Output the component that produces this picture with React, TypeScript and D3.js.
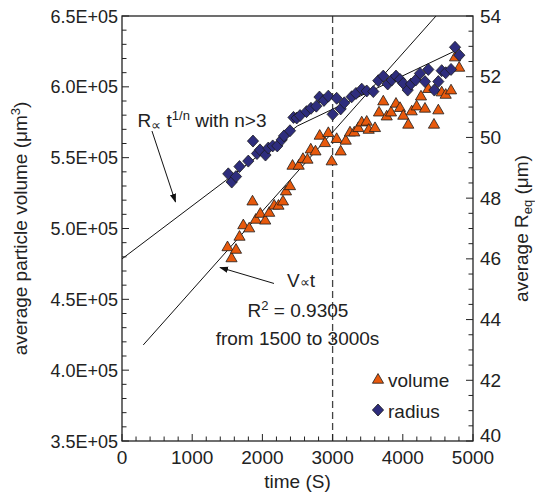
import React from 'react';
import * as d3 from 'd3';

const W = 535;
const H = 497;
const PLOT = { left: 122, right: 473, top: 16, bottom: 441 };

// volume (left axis), triangles
const volTime = [1503, 1560, 1624, 1674, 1728, 1812, 1859, 1906, 1970, 2040, 2097, 2168, 2229, 2293, 2336, 2393, 2429, 2517, 2578, 2642, 2689, 2756, 2816, 2892, 2939, 2987, 3058, 3115, 3187, 3248, 3309, 3366, 3415, 3486, 3514, 3604, 3661, 3722, 3771, 3832, 3903, 3960, 4007, 4078, 4127, 4197, 4259, 4316, 4363, 4444, 4506, 4554, 4611, 4687, 4744, 4803];
const volValue = [486600, 478800, 484800, 494000, 502100, 499900, 518900, 506000, 510200, 505400, 510900, 516000, 515900, 518900, 526000, 529700, 544100, 544100, 548900, 548400, 555600, 554200, 565300, 560100, 567200, 547200, 563000, 554200, 561800, 567600, 567600, 570700, 574700, 575200, 569500, 570700, 581700, 589500, 578900, 581700, 587900, 584900, 579400, 573100, 582500, 586000, 593000, 584400, 598300, 573100, 583200, 595900, 594200, 597300, 620600, 613300];

// radius (right axis), diamonds
const radTime = [1514, 1563, 1624, 1674, 1799, 1866, 1923, 1966, 2044, 2084, 2147, 2212, 2275, 2308, 2393, 2443, 2489, 2536, 2628, 2692, 2768, 2813, 2877, 2939, 3001, 3058, 3115, 3167, 3272, 3333, 3415, 3486, 3580, 3651, 3722, 3785, 3842, 3903, 3960, 4007, 4070, 4117, 4184, 4245, 4316, 4363, 4449, 4506, 4554, 4611, 4687, 4744, 4805];
const radValue = [48.80, 48.53, 48.71, 49.04, 49.22, 49.88, 49.47, 49.59, 49.42, 49.65, 49.72, 49.72, 49.92, 50.05, 50.22, 50.66, 50.64, 50.72, 50.85, 50.96, 51.03, 51.33, 51.22, 51.36, 50.76, 51.29, 50.94, 51.14, 51.34, 51.45, 51.59, 51.53, 51.51, 51.87, 52.02, 51.76, 51.89, 52.02, 51.91, 51.78, 51.56, 51.76, 51.89, 52.11, 51.84, 52.24, 51.56, 51.84, 52.20, 52.13, 52.24, 52.97, 52.71];

// fit lines
const vFitTime = [303, 4473];
const vFitValue = [417800, 650000];
const rFitTime = [0, 1500, 2500, 3500, 4744];
const rFitValue = [46.0, 48.62, 50.38, 51.48, 52.85];

const xTicks = [0, 1000, 2000, 3000, 4000, 5000];
const yLeftTicks = [350000, 400000, 450000, 500000, 550000, 600000, 650000];
const yLeftLabels = ['3.5E+05', '4.0E+05', '4.5E+05', '5.0E+05', '5.5E+05', '6.0E+05', '6.5E+05'];
const yRightTicks = [40, 42, 44, 46, 48, 50, 52, 54];
const dashedTime = 3000;

const FONT = '"Liberation Sans", Arial, Helvetica, sans-serif';
const TEXT = '#222';
const TRI_FILL = '#e8590c';
const DIA_FILL = '#2e2d7d';
const MARK_STROKE = '#1c1c1c';

const x = d3.scaleLinear().domain([0, 5000]).range([PLOT.left, PLOT.right]);
const yL = d3.scaleLinear().domain([350000, 650000]).range([PLOT.bottom, PLOT.top]);
const yR = d3.scaleLinear().domain([40, 54]).range([PLOT.bottom, PLOT.top]);

const triPath = d3.symbol(d3.symbolTriangle, 54)() as string;
const diaPath = 'M0,-6L5.6,0L0,6L-5.6,0Z';

export default function App() {
  const xMinor = d3.range(0, 5001, 200);
  const yLMinor = d3.range(350000, 650001, 10000);
  const yRMinor = d3.range(40, 54.01, 0.5);

  const vLine = d3.line<number>().x((_, i) => x(vFitTime[i])).y((d) => yL(d))(vFitValue) as string;
  const rLine = d3.line<number>().x((_, i) => x(rFitTime[i])).y((d) => yR(d))(rFitValue) as string;

  const fs = 19;

  return (
    <svg width={W} height={H} style={{ position: 'absolute', left: 0, top: 0, background: '#fff' }} fontFamily={FONT}>
      <defs>
        <clipPath id="plotclip">
          <rect x={PLOT.left} y={PLOT.top} width={PLOT.right - PLOT.left} height={PLOT.bottom - PLOT.top} />
        </clipPath>
        <marker id="arrow" viewBox="0 0 10 10" refX="9" refY="5" markerWidth="9" markerHeight="9" markerUnits="userSpaceOnUse" orient="auto">
          <path d="M0,1.5L10,5L0,8.5Z" fill="#111" />
        </marker>
      </defs>

      {/* dashed vertical line */}
      <line x1={x(dashedTime)} x2={x(dashedTime)} y1={PLOT.top} y2={PLOT.bottom} stroke="#444" strokeWidth={1.3} strokeDasharray="7,4" />

      {/* fit lines */}
      <g clipPath="url(#plotclip)" fill="none" stroke="#111" strokeWidth={1}>
        <path d={vLine} />
        <path d={rLine} />
      </g>

      {/* volume triangles */}
      <g>
        {volTime.map((t, i) => (
          <path key={'v' + i} d={triPath} transform={`translate(${x(t)},${yL(volValue[i])})`} fill={TRI_FILL} stroke={MARK_STROKE} strokeWidth={0.8} />
        ))}
      </g>
      {/* radius diamonds */}
      <g>
        {radTime.map((t, i) => (
          <path key={'r' + i} d={diaPath} transform={`translate(${x(t)},${yR(radValue[i])})`} fill={DIA_FILL} stroke={MARK_STROKE} strokeWidth={0.8} />
        ))}
      </g>

      {/* frame */}
      <rect x={PLOT.left} y={PLOT.top} width={PLOT.right - PLOT.left} height={PLOT.bottom - PLOT.top} fill="none" stroke="#222" strokeWidth={1.3} />

      {/* ticks */}
      <g stroke="#222" strokeWidth={1}>
        {xMinor.map((t) => {
          const major = t % 1000 === 0;
          return <line key={'xt' + t} x1={x(t)} x2={x(t)} y1={PLOT.bottom} y2={PLOT.bottom - (major ? 7 : 4.5)} />;
        })}
        {yLMinor.map((v) => {
          const major = v % 50000 === 0;
          return <line key={'ylt' + v} x1={PLOT.left} x2={PLOT.left + (major ? 7 : 4.5)} y1={yL(v)} y2={yL(v)} />;
        })}
        {yRMinor.map((r) => {
          const major = Math.abs(r % 2) < 1e-9;
          return <line key={'yrt' + r} x1={PLOT.right} x2={PLOT.right - (major ? 7 : 4.5)} y1={yR(r)} y2={yR(r)} />;
        })}
      </g>

      {/* tick labels */}
      <g fill={TEXT} fontSize={fs}>
        {xTicks.map((t) => (
          <text key={'xl' + t} x={x(t)} y={PLOT.bottom + 22.5} textAnchor="middle">{t}</text>
        ))}
        {yLeftTicks.map((v, i) => (
          <text key={'yll' + v} x={PLOT.left - 4} y={yL(v) + 6.5} textAnchor="end" fontSize={18}>{yLeftLabels[i]}</text>
        ))}
        {yRightTicks.map((r) => (
          <text key={'yrl' + r} x={PLOT.right + 7} y={yR(r) + (r === 40 ? 1 : 6.5)} textAnchor="start">{r}</text>
        ))}
      </g>

      {/* axis titles */}
      <text x={(PLOT.left + PLOT.right) / 2} y={488} textAnchor="middle" fontSize={fs} fill={TEXT}>time (S)</text>
      <text transform={`translate(27,${(PLOT.top + PLOT.bottom) / 2}) rotate(-90)`} textAnchor="middle" fontSize={fs} fill={TEXT}>
        average particle volume (μm<tspan fontSize={13} dy={-7}>3</tspan><tspan dy={7}>)</tspan>
      </text>
      <text transform={`translate(528,${(PLOT.top + PLOT.bottom) / 2}) rotate(-90)`} textAnchor="middle" fontSize={fs} fill={TEXT}>
        average R<tspan fontSize={13} dy={4}>eq</tspan><tspan dy={-4}> (μm)</tspan>
      </text>

      {/* annotations */}
      <text x={x(221)} y={yL(571650)} fontSize={fs} fill={TEXT}>
        R<tspan fontSize={14} dy={3}>∝</tspan><tspan dy={-3}> t</tspan><tspan fontSize={13} dy={-7}>1/n</tspan><tspan dy={7}> with n&gt;3</tspan>
      </text>
      <line x1={x(427)} y1={yL(568800)} x2={x(762)} y2={yL(518700)} stroke="#111" strokeWidth={1} markerEnd="url(#arrow)" />

      <text x={x(2350)} y={yL(458700)} fontSize={fs} fill={TEXT}>
        V<tspan fontSize={14}>∝</tspan>t
      </text>
      <line x1={x(2165)} y1={yL(461200)} x2={x(1396)} y2={yL(472500)} stroke="#111" strokeWidth={1} markerEnd="url(#arrow)" />

      <text x={x(2507)} y={yL(437500)} fontSize={fs} fill={TEXT} textAnchor="middle">
        R<tspan fontSize={13} dy={-7}>2</tspan><tspan dy={7}> = 0.9305</tspan>
      </text>
      <text x={x(2500)} y={yL(417800)} fontSize={fs} fill={TEXT} textAnchor="middle">from 1500 to 3000s</text>

      {/* legend */}
      <g>
        <path d={triPath} transform={`translate(378,380)`} fill={TRI_FILL} stroke={MARK_STROKE} strokeWidth={0.8} />
        <text x={388} y={387} fontSize={fs} fill={TEXT}>volume</text>
        <path d={diaPath} transform={`translate(378,410)`} fill={DIA_FILL} stroke={MARK_STROKE} strokeWidth={0.8} />
        <text x={388} y={418} fontSize={fs} fill={TEXT}>radius</text>
      </g>
    </svg>
  );
}
